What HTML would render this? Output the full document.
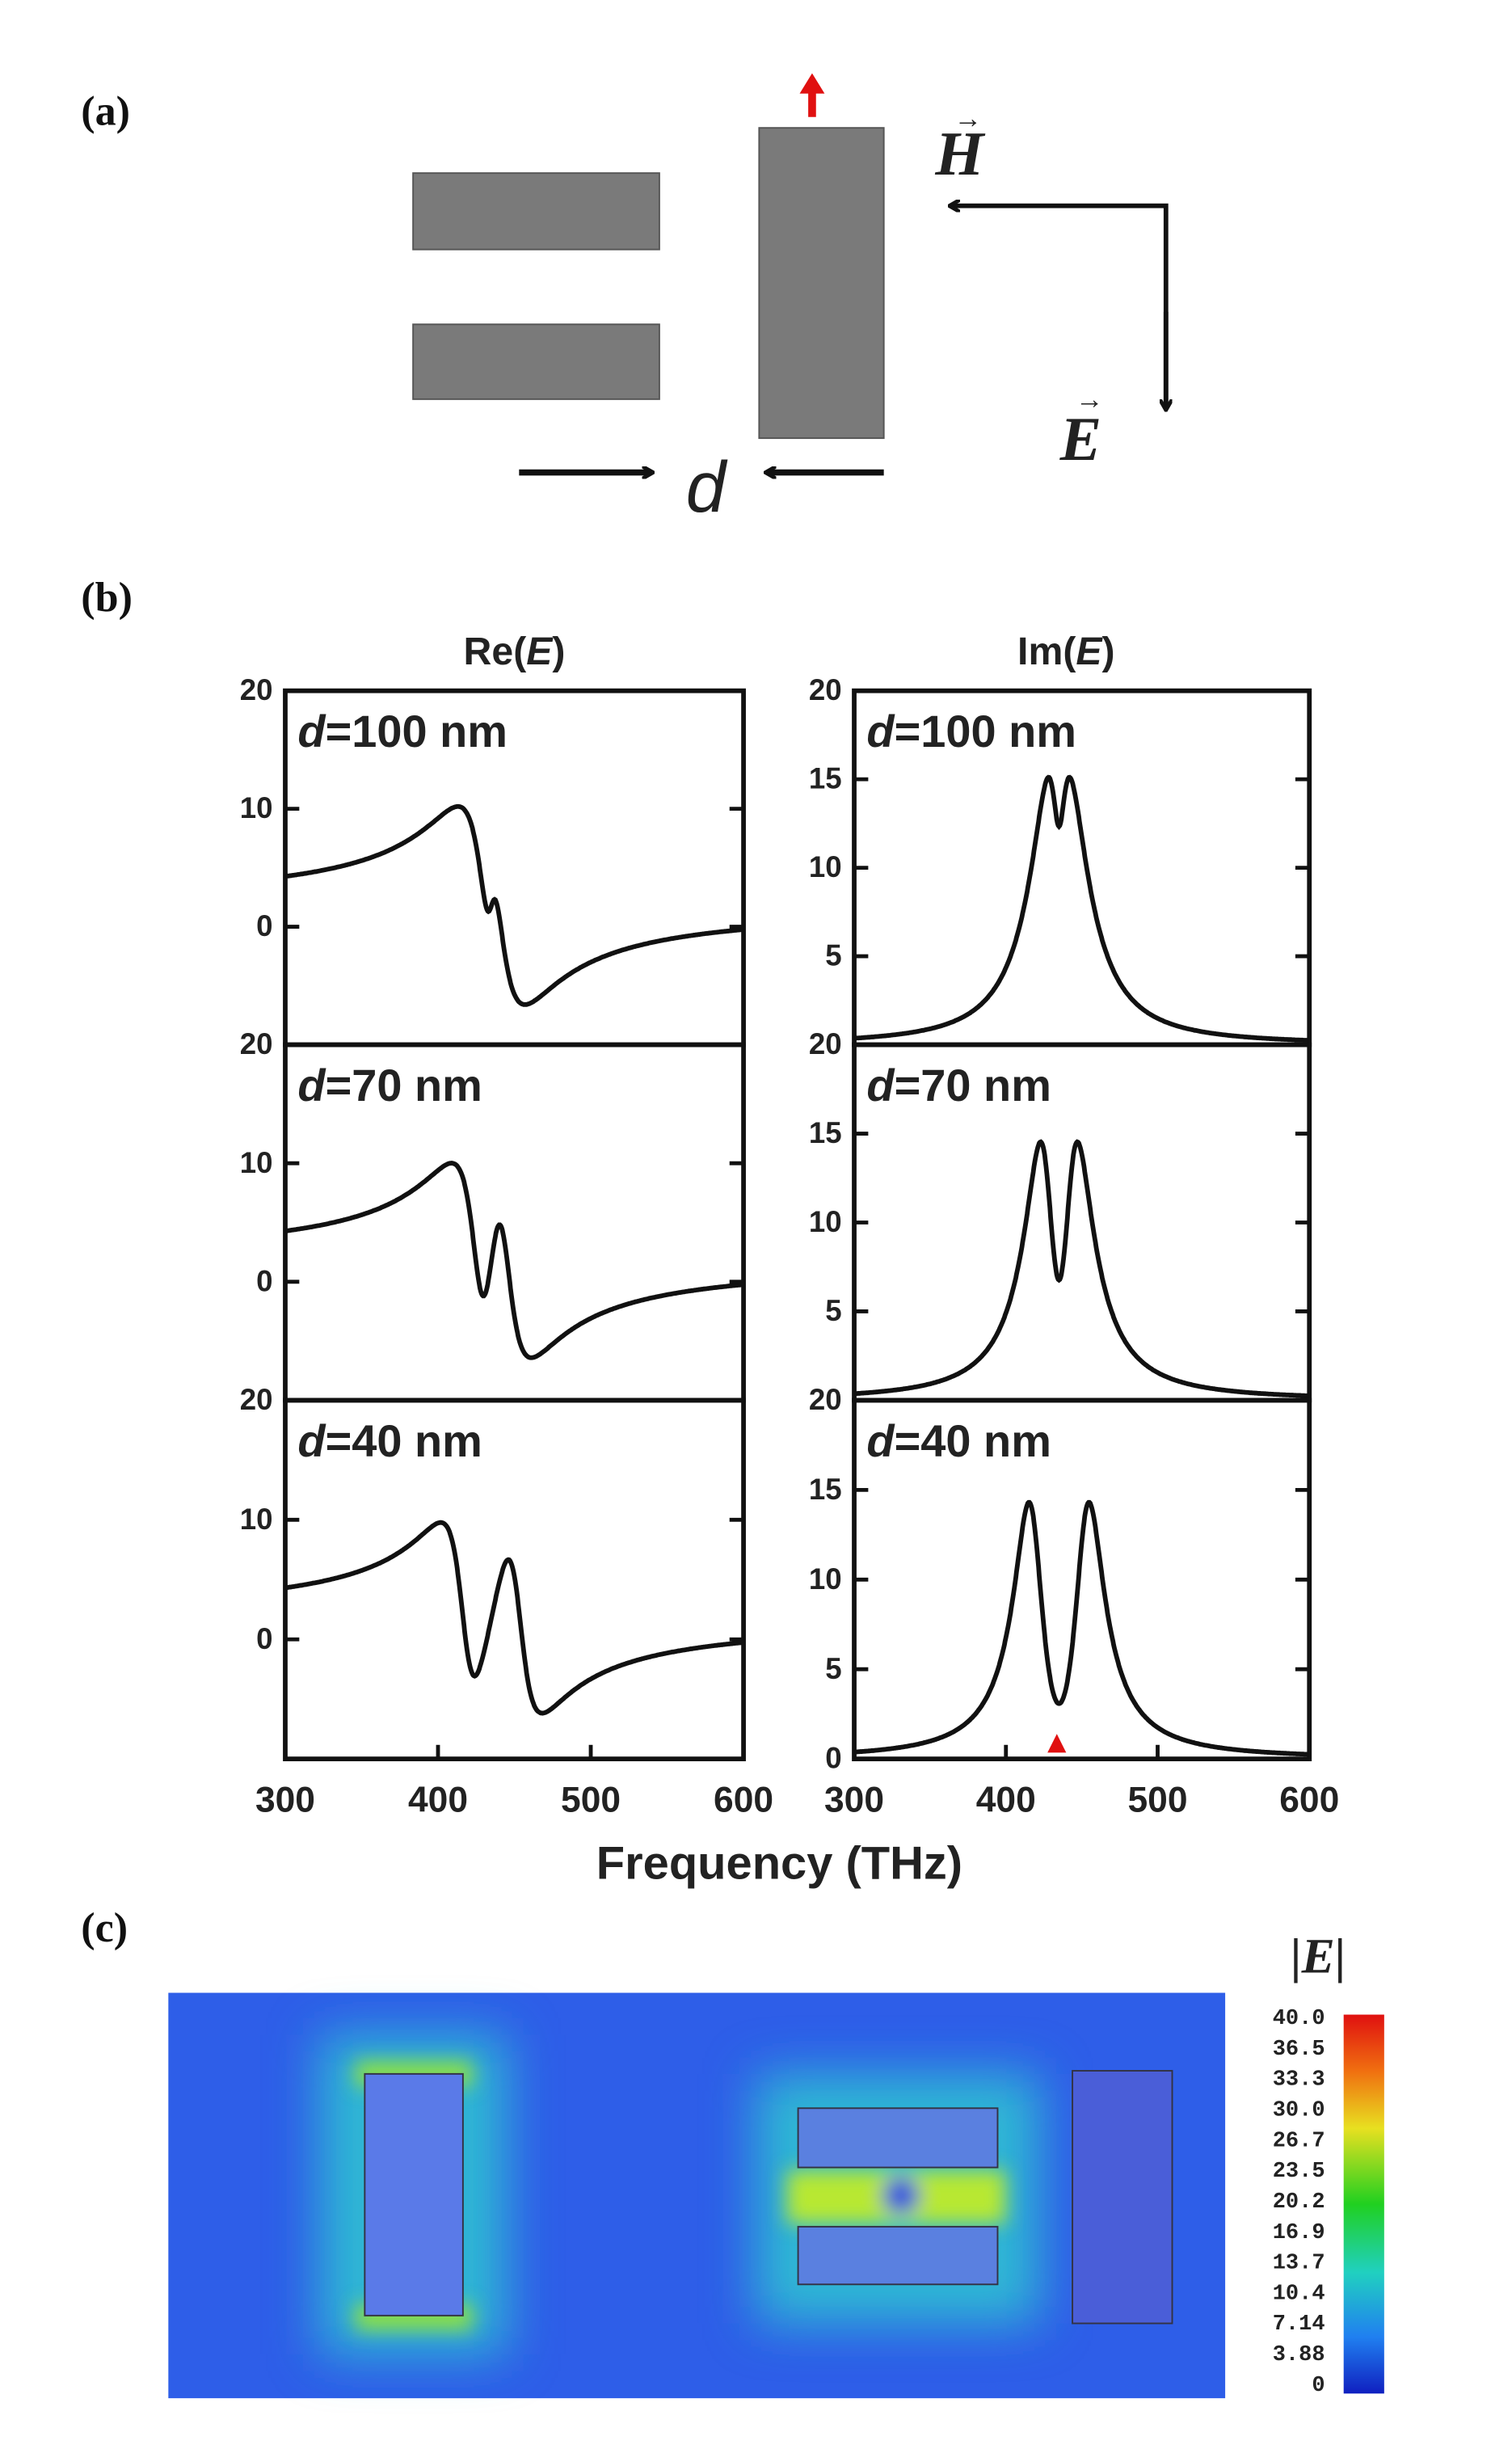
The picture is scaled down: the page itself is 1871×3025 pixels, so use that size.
<!DOCTYPE html>
<html><head><meta charset="utf-8"><style>
html,body{margin:0;padding:0;background:#fff}
svg{display:block}
.t{font-family:"Liberation Sans",sans-serif;font-weight:bold;fill:#222}
.s{font-family:"Liberation Serif",serif;font-weight:bold;fill:#111}
</style></head><body>
<svg id="g" width="1871" height="3025" viewBox="0 0 970 1568" preserveAspectRatio="none" xmlns="http://www.w3.org/2000/svg">
<defs>
<marker id="ah" markerWidth="8" markerHeight="8" refX="6" refY="4" orient="auto" markerUnits="userSpaceOnUse"><path d="M0,0 L7,4 L0,8" fill="none" stroke="#111" stroke-width="2.5"/></marker>
<filter id="bl" x="-50%" y="-50%" width="200%" height="200%"><feGaussianBlur stdDeviation="16"/></filter>
<filter id="bl2" x="-50%" y="-50%" width="200%" height="200%"><feGaussianBlur stdDeviation="6"/></filter>
<linearGradient id="cb" x1="0" y1="0" x2="0" y2="1">
<stop offset="0" stop-color="#e01010"/><stop offset="0.15" stop-color="#f07010"/><stop offset="0.3" stop-color="#e8e020"/><stop offset="0.5" stop-color="#20d020"/><stop offset="0.68" stop-color="#20d0c0"/><stop offset="0.85" stop-color="#2080f0"/><stop offset="1" stop-color="#1020c0"/></linearGradient>
</defs>
<text class="s" x="52" y="80" font-size="27">(a)</text>
<rect x="265" y="111" width="158" height="49" fill="#7a7a7a" stroke="#555"/>
<rect x="265" y="208" width="158" height="48" fill="#7a7a7a" stroke="#555"/>
<rect x="487" y="82" width="80" height="199" fill="#7a7a7a" stroke="#555"/>
<path d="M521,75 V56" stroke="#e01010" stroke-width="5"/><path d="M513,60 L521,47 L529,60Z" fill="#e01010"/>
<path d="M748,262 V132 H610" fill="none" stroke="#111" stroke-width="3" marker-end="url(#ah)"/>
<path d="M748,200 V262" fill="none" stroke="#111" stroke-width="3" marker-end="url(#ah)"/>
<text x="600" y="112" font-family="Liberation Serif,serif" font-style="italic" font-weight="bold" font-size="40" fill="#222">H</text>
<text x="612" y="82" font-size="18" fill="#222">→</text>
<text x="680" y="295" font-family="Liberation Serif,serif" font-style="italic" font-weight="bold" font-size="40" fill="#222">E</text>
<text x="690" y="262" font-size="18" fill="#222">→</text>
<path d="M333,303 H418" stroke="#111" stroke-width="4" marker-end="url(#ah)"/>
<path d="M567,303 H492" stroke="#111" stroke-width="4" marker-end="url(#ah)"/>
<text x="440" y="328" font-family="Liberation Sans,sans-serif" font-style="italic" font-size="46" fill="#222">d</text>
<text class="s" x="52" y="392" font-size="27">(b)</text>
<text class="t" x="330" y="426" font-size="25" text-anchor="middle" font-weight="normal">Re(<tspan font-style="italic">E</tspan>)</text>
<text class="t" x="684" y="426" font-size="25" text-anchor="middle" font-weight="normal">Im(<tspan font-style="italic">E</tspan>)</text>
<g id="plots"></g>
<text class="t" x="500" y="1205" font-size="30" text-anchor="middle" font-weight="normal">Frequency (THz)</text>
<text class="s" x="52" y="1245" font-size="27">(c)</text>
<rect x="108" y="1278" width="678" height="260" fill="#2e5ee8"/>
<g filter="url(#bl)">
<rect x="205" y="1305" width="120" height="205" fill="#30c8d0" opacity="0.85"/>
<rect x="485" y="1330" width="182" height="160" fill="#30c8d0" opacity="0.85"/>
</g>
<g filter="url(#bl2)">
<rect x="228" y="1322" width="75" height="16" fill="#90e040"/>
<rect x="228" y="1478" width="75" height="16" fill="#90e040"/>
<rect x="505" y="1392" width="140" height="34" fill="#b8e830"/>
<circle cx="578" cy="1408" r="12" fill="#3050e0"/>
</g>
<rect x="234" y="1330" width="63" height="155" fill="#5a7ae8" stroke="#334" stroke-width="1"/>
<rect x="512" y="1352" width="128" height="38" fill="#5a80e0" stroke="#334"/>
<rect x="512" y="1428" width="128" height="37" fill="#5a80e0" stroke="#334"/>
<rect x="688" y="1328" width="64" height="162" fill="#4a5ed8" stroke="#334"/>
<rect x="862" y="1292" width="26" height="243" fill="url(#cb)"/>
<text x="828" y="1265" font-family="Liberation Serif,serif" font-style="italic" font-weight="bold" font-size="32" fill="#222">|E|</text>
<g id="cbl" font-family="Liberation Mono,monospace" font-weight="bold" font-size="14" fill="#222" text-anchor="end"></g>
</svg>
<script>
var NS="http://www.w3.org/2000/svg",P=document.getElementById("plots");
function el(n,a,t){var e=document.createElementNS(NS,n);for(var k in a)e.setAttribute(k,a[k]);if(t!=null)e.textContent=t;P.appendChild(e);return e;}
var tops=[443,670,898],bots=[670,898,1128],ds=["100","70","40"],ks=[5.5,11,19];
var L=[183,477],R=[548,840];
function resp(w,k){var A=340,g=20,g2=4,w0=435;var a=w0-w,b=-g;var c=w0-w,e=-g2;var den=c*c+e*e;var qr=k*k*c/den,qi=-k*k*e/den;var dr=a-qr,di=b-qi;var m=dr*dr+di*di;return [A*dr/m+1.8,-A*di/m];}
for(var i=0;i<3;i++){var t=tops[i],b=bots[i];
 [L,R].forEach(function(X,j){
  el("rect",{x:X[0],y:t,width:X[1]-X[0],height:b-t,fill:"none",stroke:"#111","stroke-width":3});
  var sx=function(w){return X[0]+(w-300)/300*(X[1]-X[0]);};
  var sy,ticks;
  if(j==0){sy=function(v){return t+(20-v)/30*(b-t);};ticks=[[20,"20"],[10,"10"],[0,"0"]];}
  else{sy=function(v){return t+(20-v)/20*(b-t);};ticks=[[20,"20"],[15,"15"],[10,"10"],[5,"5"]];if(i==2)ticks.push([0,"0"]);}
  ticks.forEach(function(tk){var y=sy(tk[0]);el("text",{"class":"t",x:X[0]-8,y:y+6,"font-size":19,"text-anchor":"end"},tk[1]);
   if(tk[0]!=20){el("line",{x1:X[0],x2:X[0]+9,y1:y,y2:y,stroke:"#111","stroke-width":2.5});el("line",{x1:X[1],x2:X[1]-9,y1:y,y2:y,stroke:"#111","stroke-width":2.5});}});
  if(i==2){[400,500].forEach(function(w){el("line",{x1:sx(w),x2:sx(w),y1:b,y2:b-9,stroke:"#111","stroke-width":2.5});});
   [300,400,500,600].forEach(function(w){el("text",{"class":"t",x:sx(w),y:b+34,"font-size":23,"text-anchor":"middle"},""+w);});}
  var d="";for(var w=300;w<=600;w+=0.5){var r=resp(w,ks[i]);var v=j==0?r[0]:r[1];var y=sy(v);y=Math.max(t+2,Math.min(b-1,y));d+=(w==300?"M":"L")+sx(w).toFixed(1)+","+y.toFixed(1);}
  el("path",{d:d,fill:"none",stroke:"#111","stroke-width":3});
  var lab=el("text",{"class":"t",x:X[0]+8,y:t+36,"font-size":29});
  var ts=document.createElementNS(NS,"tspan");ts.setAttribute("font-style","italic");ts.textContent="d";lab.appendChild(ts);lab.appendChild(document.createTextNode("="+ds[i]+" nm"));
 });}
el("path",{d:"M672,1124 L678,1112 L684,1124Z",fill:"#e01010"});
var C=document.getElementById("cbl"),labs=["40.0","36.5","33.3","30.0","26.7","23.5","20.2","16.9","13.7","10.4","7.14","3.88","0"];
labs.forEach(function(s,k){var e=document.createElementNS(NS,"text");e.setAttribute("x",850);e.setAttribute("y",1298+k*19.6);e.textContent=s;C.appendChild(e);});
</script>
</body></html>
